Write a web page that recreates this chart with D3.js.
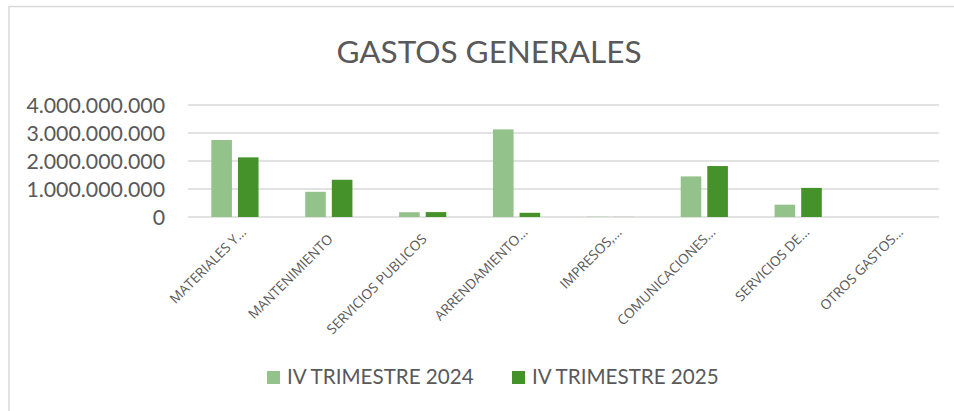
<!DOCTYPE html>
<html lang="es">
<head>
<meta charset="utf-8">
<title>Gastos generales</title>
<script src="https://cdn.jsdelivr.net/npm/d3@7"></script>
<style>
  body { margin: 0; background: #fff; }
  svg { display: block; font-family: Lato, "Open Sans", sans-serif; }
</style>
</head>
<body>
<div id="chart"></div>
<script>
// datos
var categorias = ["MATERIALES Y…", "MANTENIMIENTO", "SERVICIOS PUBLICOS", "ARRENDAMIENTO…",
                  "IMPRESOS,…", "COMUNICACIONES…", "SERVICIOS DE…", "OTROS GASTOS…"];
var series = ["IV TRIMESTRE 2024", "IV TRIMESTRE 2025"];
var trimestre2024 = [2750000000, 900000000, 170000000, 3130000000, 8000000, 1450000000, 440000000, 0];
var trimestre2025 = [2130000000, 1330000000, 175000000, 150000000, 3000000, 1820000000, 1040000000, 0];
var ticksY = [0, 1000000000, 2000000000, 3000000000, 4000000000];
var colores = ["#94c28b", "#46922a"];

var width = 954, height = 411;
var margin = {top: 105, right: 15, bottom: 194, left: 188};

var svg = d3.select("#chart").append("svg")
  .attr("width", width)
  .attr("height", height);

// borde del area del grafico
svg.append("rect")
  .attr("x", 9).attr("y", 6.5)
  .attr("width", 960).attr("height", 420)
  .attr("fill", "none")
  .attr("stroke", "#d9d9d9")
  .attr("stroke-width", 1.5);

svg.append("text")
  .attr("x", 489).attr("y", 63)
  .attr("text-anchor", "middle")
  .attr("font-size", 31.5)
  .attr("fill", "#595959")
  .text("GASTOS GENERALES");

var x0 = d3.scaleBand()
  .domain(categorias)
  .range([margin.left, width - margin.right]);

var x1 = d3.scaleBand()
  .domain(series)
  .range([0, 47.2])
  .paddingInner(0.2256);

var y = d3.scaleLinear()
  .domain([0, 4000000000])
  .range([height - margin.bottom, margin.top]);

var fmt = function (v) {
  return d3.format(",")(v).replace(/,/g, ".");
};

// lineas de la cuadricula
svg.append("g")
  .selectAll("line")
  .data(ticksY)
  .enter().append("line")
  .attr("x1", x0.range()[0])
  .attr("x2", x0.range()[1])
  .attr("y1", function (d) { return y(d); })
  .attr("y2", function (d) { return y(d); })
  .attr("stroke", "#d9d9d9")
  .attr("stroke-width", 1.5);

// etiquetas del eje y
svg.append("g")
  .selectAll("text")
  .data(ticksY)
  .enter().append("text")
  .attr("x", 165)
  .attr("y", function (d) { return y(d); })
  .attr("dy", "0.36em")
  .attr("text-anchor", "end")
  .attr("font-size", 21.3)
  .attr("fill", "#595959")
  .text(fmt);

var datos = categorias.map(function (c, i) {
  return {cat: c, valores: [trimestre2024[i], trimestre2025[i]]};
});

var grupos = svg.append("g")
  .selectAll("g")
  .data(datos)
  .enter().append("g")
  .attr("transform", function (d) {
    return "translate(" + (x0(d.cat) + x0.bandwidth() / 2 - 23.6) + ",0)";
  });

grupos.selectAll("rect")
  .data(function (d) {
    return d.valores.map(function (v, j) { return {serie: series[j], valor: v, j: j}; });
  })
  .enter().append("rect")
  .attr("x", function (d) { return x1(d.serie); })
  .attr("y", function (d) { return y(d.valor); })
  .attr("width", x1.bandwidth())
  .attr("height", function (d) { return y(0) - y(d.valor); })
  .attr("fill", function (d) { return colores[d.j]; });

// etiquetas del eje x giradas (las truncadas quedan un poco desplazadas)
svg.append("g")
  .selectAll("text")
  .data(categorias)
  .enter().append("text")
  .attr("transform", function (d) {
    return "translate(" + (x0(d) + x0.bandwidth() / 2 + 5) + ",240) rotate(-45)";
  })
  .attr("dx", function (d) { return d.slice(-1) === "…" ? 10 : 0; })
  .attr("text-anchor", "end")
  .attr("font-family", "'Open Sans', sans-serif")
  .attr("font-size", 13.7)
  .attr("fill", "#595959")
  .text(function (d) { return d; });

// leyenda
var leyendaX = [267, 512];
var leyenda = svg.append("g")
  .selectAll("g")
  .data(series)
  .enter().append("g")
  .attr("transform", function (d, i) { return "translate(" + leyendaX[i] + ",371)"; });

leyenda.append("rect")
  .attr("width", 13).attr("height", 13)
  .attr("fill", function (d, i) { return colores[i]; });

leyenda.append("text")
  .attr("x", 20).attr("y", 13)
  .attr("font-size", 20.6)
  .attr("fill", "#595959")
  .text(function (d) { return d; });
</script>
</body>
</html>
